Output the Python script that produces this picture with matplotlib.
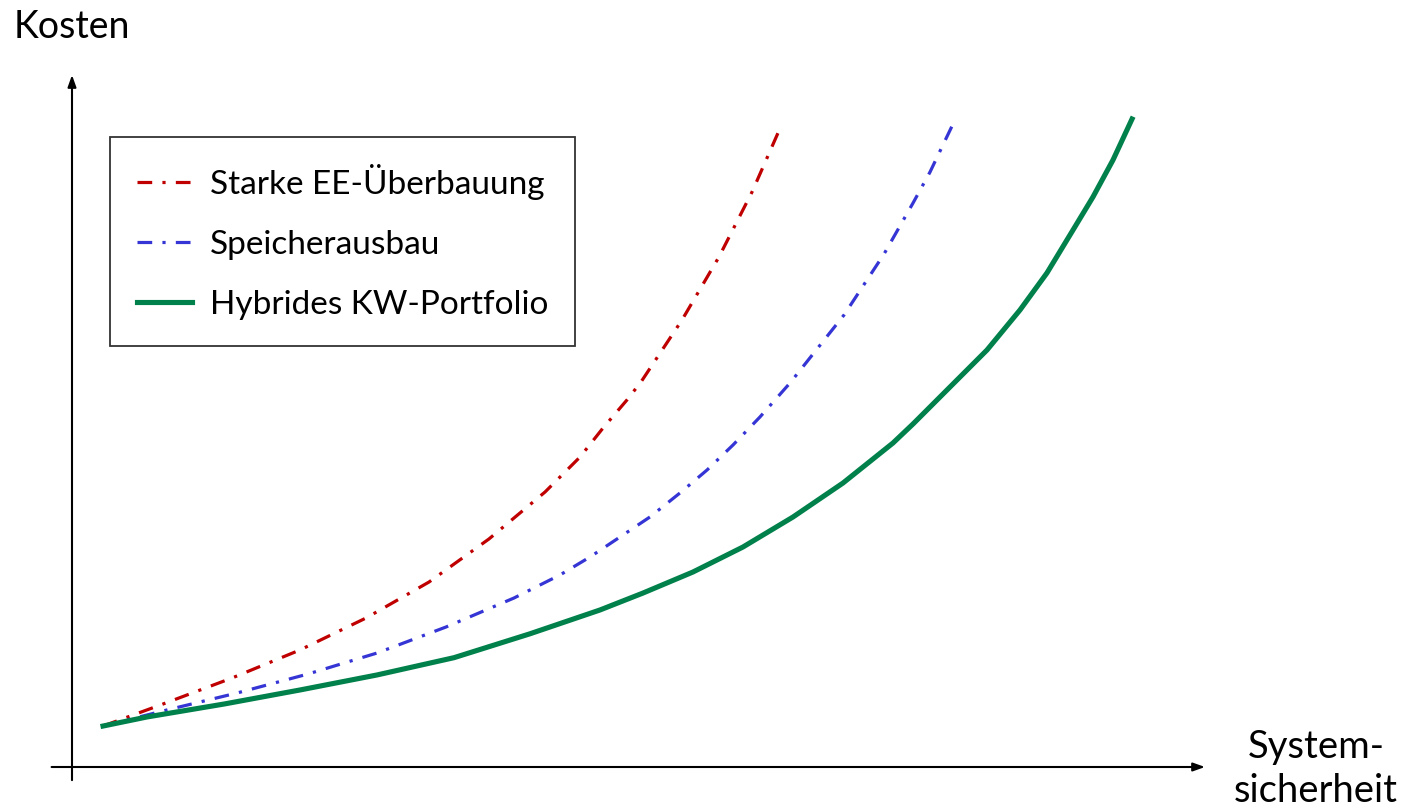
# Kosten vs. Systemsicherheit - qualitative comparison of three strategies

import numpy as np
import matplotlib.pyplot as plt

plt.rcParams['font.family'] = ['Lato', 'DejaVu Sans']

# %% data (arbitrary units, 0..10 on both axes)
labels = ['Starke EE-Überbauung', 'Speicherausbau', 'Hybrides KW-Portfolio']
colors = ['#C00000', '#3535D5', '#00814B']

x_ee = [0.274, 0.803, 1.412, 2.012, 2.595, 3.151, 3.680, 4.175, 4.484, 4.687, 4.898,
        5.022, 5.384, 5.710, 6.002, 6.266]
y_ee = [0.592, 0.910, 1.286, 1.691, 2.153, 2.673, 3.295, 3.974, 4.480, 4.899, 5.304,
        5.564, 6.460, 7.370, 8.309, 9.292]

x_sp = [0.274, 0.838, 1.456, 2.083, 2.692, 3.301, 3.901, 4.307, 4.572, 4.837, 5.101,
        5.366, 5.605, 5.834, 6.072, 6.337, 6.814, 7.167, 7.423, 7.573, 7.687, 7.776]
y_sp = [0.592, 0.824, 1.069, 1.344, 1.647, 2.023, 2.442, 2.775, 3.035, 3.324, 3.613,
        3.960, 4.292, 4.653, 5.058, 5.549, 6.532, 7.413, 8.150, 8.598, 8.989, 9.292]

x_kw = [0.274, 0.662, 1.342, 2.012, 2.692, 3.372, 4.042, 4.660, 5.040, 5.481, 5.922,
        6.364, 6.805, 7.246, 7.423, 7.723, 8.076, 8.367, 8.605, 8.835, 9.011, 9.188, 9.356]
y_kw = [0.592, 0.723, 0.910, 1.113, 1.330, 1.580, 1.925, 2.269, 2.514, 2.818, 3.179,
        3.613, 4.104, 4.682, 4.957, 5.448, 6.026, 6.604, 7.139, 7.760, 8.237, 8.772, 9.364]

# %% figure
W, H = 1404, 808
fig = plt.figure(figsize=(W / 100, H / 100), dpi=100)
ax = fig.add_axes([72 / W, 1 - 767 / H, (1205 - 72) / W, (767 - 75) / H])
ax.set_xlim(0, 10)
ax.set_ylim(0, 10)
ax.axis('off')

dashdot = (0, (4.6, 3.2, 1, 3.2))
ax.plot(x_ee, y_ee, color=colors[0], lw=2.3, ls=dashdot, label=labels[0])
ax.plot(x_sp, y_sp, color=colors[1], lw=2.3, ls=dashdot, label=labels[1])
ax.plot(x_kw, y_kw, color=colors[2], lw=3.7, ls='-', label=labels[2],
        solid_joinstyle='round')

# axis arrows
arrow = dict(arrowstyle='-|>,head_length=0.7,head_width=0.25', color='black', lw=1.5,
             shrinkA=0, shrinkB=0)
ax.annotate('', xy=(1, 0), xytext=(-0.018, 0), xycoords='axes fraction', arrowprops=arrow,
            annotation_clip=False)
ax.annotate('', xy=(0, 1), xytext=(0, -0.019), xycoords='axes fraction', arrowprops=arrow,
            annotation_clip=False)

fig.text(72 / W, 1 - 27 / H, 'Kosten', ha='center', va='center', fontsize=27)
fig.text(1316 / W, 1 - 769 / H, 'System-\nsicherheit', ha='center', va='center',
         fontsize=27.5, linespacing=1.25)

leg = ax.legend(loc='upper left', bbox_to_anchor=((110 - 72) / 1133, 1 - (137 - 75) / 692),
                fontsize=24, frameon=True, fancybox=False, edgecolor='black',
                handlelength=1.65, handletextpad=0.55, labelspacing=0.9,
                borderpad=0.8, borderaxespad=0)
leg.get_frame().set_linewidth(1.3)

fig.savefig('out.png', dpi=100)
